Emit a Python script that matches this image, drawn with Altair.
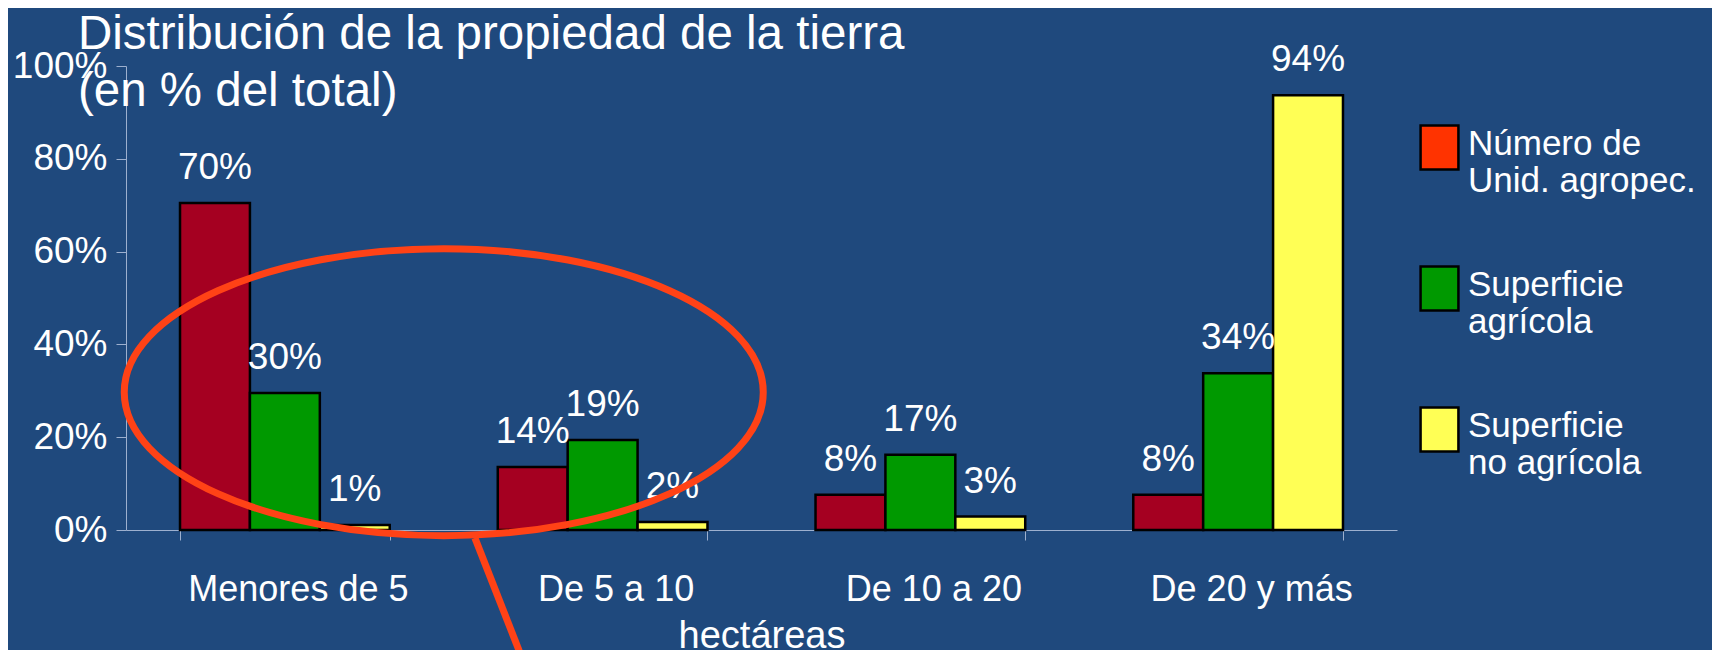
import altair as alt
import pandas as pd

FONT = "Liberation Sans"
BG = "#1F497D"
AXIS_COLOR = "#9DB0CF"
ANNOT = "#FF4216"

categories = ["Menores de 5", "De 5 a 10", "De 10 a 20", "De 20 y más"]
series = ["Número de|Unid. agropec.", "Superficie|agrícola", "Superficie|no agrícola"]

units_vals = [70.5, 13.6, 7.6, 7.6]
agri_vals = [29.5, 19.4, 16.2, 33.8]
nonagri_vals = [1.1, 1.7, 2.9, 93.7]

units_lbl = ["70%", "14%", "8%", "8%"]
agri_lbl = ["30%", "19%", "17%", "34%"]
nonagri_lbl = ["1%", "2%", "3%", "94%"]

bar_colors = ["#A50021", "#009900", "#FFFF55"]
legend_colors = ["#FF3300", "#009900", "#FFFF55"]

# annotation (ellipse + arrow), in category units along x and % along y
ellipse_x = [1.0]
ellipse_y = [29.7]
arrow_x0 = [1.098]
arrow_x1 = [1.24]
arrow_y0 = [-1.7]
arrow_y1 = [-26.5]

rows = []
for vals, lbls, s in [(units_vals, units_lbl, series[0]),
                      (agri_vals, agri_lbl, series[1]),
                      (nonagri_vals, nonagri_lbl, series[2])]:
    for c, v, l in zip(categories, vals, lbls):
        rows.append({"cat": c, "series": s, "value": v, "label": l})
df = pd.DataFrame(rows)

x_enc = alt.X(
    "cat:N",
    sort=categories,
    scale=alt.Scale(domain=categories, paddingInner=0.34, paddingOuter=0.17),
    title="hectáreas",
    axis=alt.Axis(
        labelAngle=0, labelFontSize=36, labelColor="white", labelFont=FONT,
        labelBaseline="alphabetic", labelPadding=60, labelOffset=13,
        labelLimit=500, labelOverlap=False,
        domainColor=AXIS_COLOR, tickColor=AXIS_COLOR, tickSize=10,
        tickBand="extent", titleFontSize=38, titleColor="white",
        titleFont=FONT, titleFontWeight="normal", titleBaseline="alphabetic",
        titleY=117,
    ),
)
xoff_enc = alt.XOffset(
    "series:N", sort=series,
    scale=alt.Scale(domain=series, paddingInner=0, paddingOuter=0),
)
y_enc = alt.Y(
    "value:Q",
    scale=alt.Scale(domain=[0, 100], nice=False, zero=True),
    title=None,
    axis=alt.Axis(
        values=[0, 20, 40, 60, 80, 100], labelExpr="datum.value + '%'",
        labelFontSize=37, labelColor="white", labelFont=FONT, labelPadding=9,
        domainColor=AXIS_COLOR, tickColor=AXIS_COLOR, tickSize=10, grid=False,
    ),
)

base = alt.Chart(df).encode(x=x_enc, xOffset=xoff_enc, y=y_enc)

# bar colours: data-derived domain (sorted) so it is not merged with the legend's fill scale
bars = base.mark_bar(stroke="black", strokeWidth=2.5).encode(
    color=alt.Color("series:N", sort=series, scale=alt.Scale(range=bar_colors), legend=None)
)

texts = base.mark_text(
    dy=-24, baseline="alphabetic", align="center", fontSize=37, color="white", font=FONT
).encode(text="label:N")

# invisible layer that only carries the legend (legend swatches differ from bar colours)
legend_layer = base.mark_bar(opacity=0, strokeWidth=0).encode(
    fill=alt.Fill(
        "series:N",
        scale=alt.Scale(domain=series, range=legend_colors),
        legend=alt.Legend(
            title=None, orient="none", legendX=1290, legendY=54,
            labelExpr="split(datum.label, '|')",
            labelFontSize=35, labelFont=FONT, labelColor="white",
            labelLimit=400, labelOffset=5,
            symbolType="M-0.86,-0.82H0.86V1.18H-0.86Z", symbolSize=1936,
            symbolStrokeColor="black", symbolStrokeWidth=2.5, symbolOpacity=1,
            rowPadding=62, padding=0,
        ),
    )
)

main = alt.layer(bars, texts, legend_layer)

ann_x_scale = alt.Scale(domain=[0, 4], nice=False, zero=False)
ell_df = pd.DataFrame({"xc": ellipse_x, "yc": ellipse_y})
ellipse = alt.Chart(ell_df).mark_point(
    shape="M-1,0A1,0.449,0,1,1,1,0A1,0.449,0,1,1,-1,0Z",
    size=639 * 639, filled=False, stroke=ANNOT, strokeWidth=7, opacity=1,
).encode(
    x=alt.X("xc:Q", scale=ann_x_scale, axis=None),
    y=alt.Y("yc:Q"),
)
arrow_df = pd.DataFrame({"x0": arrow_x0, "x1": arrow_x1, "y0": arrow_y0, "y1": arrow_y1})
arrow = alt.Chart(arrow_df).mark_rule(color=ANNOT, strokeWidth=7).encode(
    x=alt.X("x0:Q", scale=ann_x_scale, axis=None),
    x2="x1:Q",
    y=alt.Y("y0:Q"),
    y2="y1:Q",
)
annot = alt.layer(ellipse, arrow)

chart = alt.layer(main, annot).resolve_scale(x="independent").properties(
    width=1271,
    height=464,
    autosize=alt.AutoSizeParams(type="none"),
    padding={"left": 118, "top": 58, "right": 315, "bottom": 120},
    background=BG,
    title=alt.Title(
        ["Distribución de la propiedad de la tierra", "(en % del total)"],
        anchor="start", frame="group", orient="top", fontSize=47.5, font=FONT,
        color="white", fontWeight="normal", lineHeight=57, dx=-48, dy=112,
        offset=0, baseline="alphabetic",
    ),
).configure_view(stroke=None)

chart.save("out.html", embed_options={"renderer": "svg", "actions": False})
